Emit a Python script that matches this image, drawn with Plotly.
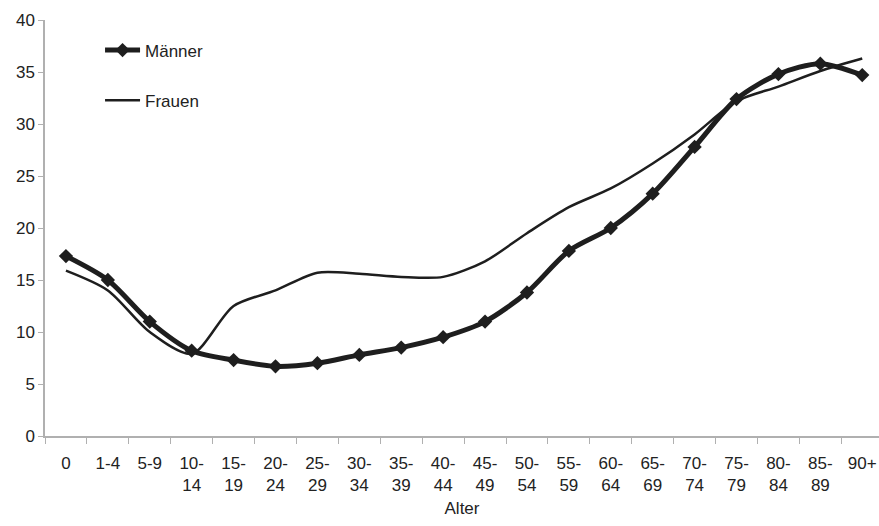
import plotly.graph_objects as go

altersgruppen = ["0", "1-4", "5-9", "10-<br>14", "15-<br>19", "20-<br>24", "25-<br>29",
                 "30-<br>34", "35-<br>39", "40-<br>44", "45-<br>49", "50-<br>54", "55-<br>59",
                 "60-<br>64", "65-<br>69", "70-<br>74", "75-<br>79", "80-<br>84", "85-<br>89", "90+"]

maenner = [17.3, 15.0, 11.0, 8.2, 7.3, 6.7, 7.0, 7.8, 8.5, 9.5,
           11.0, 13.8, 17.8, 20.0, 23.3, 27.8, 32.4, 34.8, 35.8, 34.7]

frauen = [15.9, 14.0, 10.0, 7.9, 12.5, 14.0, 15.7, 15.6, 15.3, 15.3,
          16.8, 19.5, 22.0, 23.8, 26.2, 29.0, 32.2, 33.6, 35.1, 36.3]

y_ticks = [0, 5, 10, 15, 20, 25, 30, 35, 40]

ink = "#1e1e1e"
font = "Liberation Sans, Arial, sans-serif"

fig = go.Figure()
fig.add_trace(go.Scatter(
    x=altersgruppen, y=maenner, name="Männer", legendgroup="m",
    mode="lines+markers",
    line=dict(color=ink, width=5, shape="spline", smoothing=0.8),
    marker=dict(symbol="diamond", size=11, color=ink),
))
fig.add_trace(go.Scatter(
    x=altersgruppen, y=frauen, name="Frauen", legendgroup="f",
    mode="lines",
    line=dict(color=ink, width=2.5, shape="spline", smoothing=0.8),
))

fig.update_layout(
    width=879, height=526,
    margin=dict(l=45, r=0, t=20, b=90),
    paper_bgcolor="white", plot_bgcolor="white",
    font=dict(family=font, size=17, color="#222"),
    showlegend=True,
    legend=dict(x=0.066, y=0.97, xanchor="left", yanchor="top",
                bgcolor="rgba(0,0,0,0)", font=dict(size=17, color="#222"),
                tracegroupgap=25, itemwidth=35),
    xaxis=dict(
        type="category", range=[-0.5, 19.4],
        showgrid=False, showline=True, linecolor="#b0b0b0", linewidth=1.5,
        ticks="outside", tickson="boundaries", ticklen=6, tickcolor="#b0b0b0",
        tickfont=dict(size=17, color="#222"), ticklabelstandoff=11,
        title=dict(text="Alter", font=dict(size=17, color="#222"), standoff=8),
    ),
    yaxis=dict(
        range=[0, 40], tickvals=y_ticks, showgrid=False, zeroline=False,
        showline=True, linecolor="#b0b0b0", linewidth=1.5,
        ticks="outside", ticklen=5, tickcolor="#b0b0b0",
        tickfont=dict(size=17, color="#222"),
    ),
)

fig.write_html("out.html")
